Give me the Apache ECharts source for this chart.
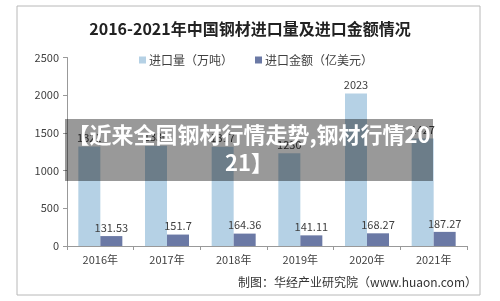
<!DOCTYPE html>
<html>
<head>
<meta charset="utf-8">
<script src="https://cdn.jsdelivr.net/npm/echarts@6/dist/echarts.min.js"></script>
<style>
  html, body { margin: 0; padding: 0; background: #fff; }
  #chart { width: 500px; height: 301px; }
</style>
</head>
<body>
<div id="chart"></div>
<script>
// 年份
const years = ['2016年', '2017年', '2018年', '2019年', '2020年', '2021年'];
// 进口量（万吨）
const importVolume = [1321, 1330, 1317, 1230, 2023, 1427];
// 进口金额（亿美元）
const importValue = [131.53, 151.7, 164.36, 141.11, 168.27, 187.27];

const chart = echarts.init(document.getElementById('chart'));
const font = '"Noto Sans CJK SC", "Noto Sans", sans-serif';

chart.setOption({
  animation: false,
  textStyle: { fontFamily: font },
  title: {
    text: '2016-2021年中国钢材进口量及进口金额情况',
    left: 'center',
    top: 16,
    textStyle: { fontSize: 16, fontWeight: 'bold', color: '#222', fontFamily: font }
  },
  legend: {
    top: 49,
    left: 134,
    itemWidth: 7,
    itemHeight: 7,
    itemGap: 22,
    icon: 'rect',
    textStyle: { fontSize: 12, color: '#404040', padding: [0, 0, 0, -2] }
  },
  grid: { left: 67, right: 33, top: 57.5, bottom: 55 },
  xAxis: {
    type: 'category',
    data: years,
    axisLine: { lineStyle: { color: '#999' } },
    axisTick: { show: true, length: 4, lineStyle: { color: '#999' } },
    axisLabel: { color: '#404040', fontSize: 11, margin: 8 }
  },
  yAxis: {
    type: 'value',
    min: 0,
    max: 2500,
    interval: 500,
    axisLine: { show: true, lineStyle: { color: '#999' } },
    axisTick: { show: true, length: 4, lineStyle: { color: '#999' } },
    axisLabel: { color: '#404040', fontSize: 11, margin: 8, formatter: (v) => String(v) },
    splitLine: { show: false }
  },
  series: [
    {
      name: '进口量（万吨）',
      type: 'bar',
      data: importVolume,
      barWidth: 22,
      barGap: '0%',
      itemStyle: { color: '#b5d1e5' },
      label: { show: true, position: 'top', fontSize: 11, color: '#404040', distance: 3 }
    },
    {
      name: '进口金额（亿美元）',
      type: 'bar',
      data: importValue,
      barWidth: 22,
      itemStyle: { color: '#6b79a5' },
      label: { show: true, position: 'top', fontSize: 11, color: '#404040', distance: 3 }
    }
  ],
  graphic: [
    {
      type: 'rect',
      shape: { x: 17, y: 6, width: 463, height: 289 },
      style: { fill: 'none', stroke: '#b8b8b8', lineWidth: 1 },
      z: 0
    },
    {
      type: 'text',
      right: 23,
      top: 276,
      style: { text: '制图：华经产业研究院（www.huaon.com）', fontSize: 12, fill: '#333', fontFamily: font }
    },
    {
      type: 'rect',
      shape: { x: 65, y: 119, width: 368, height: 62 },
      style: { fill: 'rgba(0,0,0,0.4)' },
      z: 100
    },
    {
      type: 'text',
      x: 249,
      y: 121,
      z: 101,
      style: {
        text: '【近来全国钢材行情走势,钢材行情20\n21】',
        fontSize: 22,
        fontWeight: 'bold',
        fill: '#fff',
        textAlign: 'center',
        lineHeight: 28,
        fontFamily: font
      }
    }
  ]
});
</script>
</body>
</html>
